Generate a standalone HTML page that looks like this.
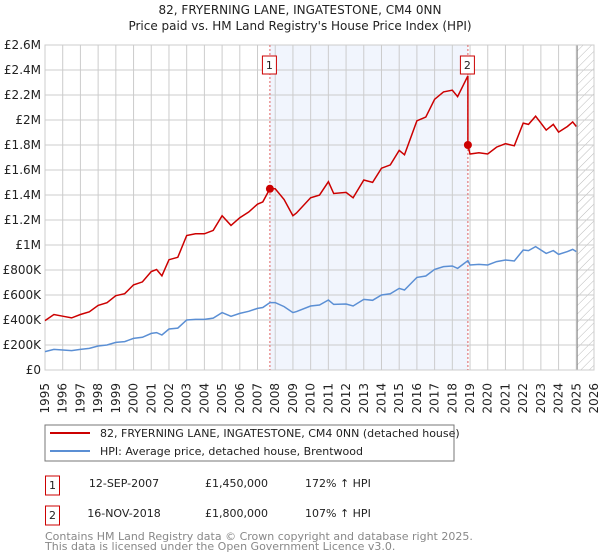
<!DOCTYPE html>
<html><head><meta charset="utf-8"><style>
body{margin:0;background:#fff;font-family:"DejaVu Sans","Liberation Sans",sans-serif;}
svg{display:block}
</style></head><body>
<svg id="chart" width="600" height="560" xmlns="http://www.w3.org/2000/svg" font-family="DejaVu Sans, Liberation Sans, sans-serif">
<text x="300" y="14" text-anchor="middle" font-size="12" fill="#222">82, FRYERNING LANE, INGATESTONE, CM4 0NN</text>
<text x="300" y="30" text-anchor="middle" font-size="12" fill="#222">Price paid vs. HM Land Registry's House Price Index (HPI)</text>
<defs><pattern id="hatch" width="6" height="6" patternUnits="userSpaceOnUse" patternTransform="rotate(45)"><line x1="0" y1="0" x2="0" y2="6" stroke="#bbb" stroke-width="1"/></pattern></defs>
<g id="plot"></g>
<rect x="45" y="425" width="409" height="36" fill="#fff" stroke="#777"/>
<line x1="50" y1="433" x2="90" y2="433" stroke="#cc0000" stroke-width="2"/>
<text x="100" y="437" font-size="11" fill="#222">82, FRYERNING LANE, INGATESTONE, CM4 0NN (detached house)</text>
<line x1="50" y1="451" x2="90" y2="451" stroke="#5b8fd4" stroke-width="2"/>
<text x="100" y="455" font-size="11" fill="#222">HPI: Average price, detached house, Brentwood</text>
<rect x="45.5" y="476" width="14" height="19" fill="#fff" stroke="#cc0000"/>
<text x="52.5" y="489" text-anchor="middle" font-size="11" fill="#222">1</text>
<text x="124" y="487" text-anchor="middle" font-size="11" fill="#222">12-SEP-2007</text>
<text x="205" y="487" font-size="11" fill="#222">£1,450,000</text>
<text x="305" y="487" font-size="11" fill="#222">172% ↑ HPI</text>
<rect x="45.5" y="506" width="14" height="19" fill="#fff" stroke="#cc0000"/>
<text x="52.5" y="519" text-anchor="middle" font-size="11" fill="#222">2</text>
<text x="124" y="517" text-anchor="middle" font-size="11" fill="#222">16-NOV-2018</text>
<text x="205" y="517" font-size="11" fill="#222">£1,800,000</text>
<text x="305" y="517" font-size="11" fill="#222">107% ↑ HPI</text>
<text x="45" y="540" font-size="11" fill="#888">Contains HM Land Registry data © Crown copyright and database right 2025.</text>
<text x="45" y="550" font-size="11" fill="#888">This data is licensed under the Open Government Licence v3.0.</text>
</svg>
<script>
const hpiYears=[1995,1995.5,1996,1996.5,1997,1997.5,1998,1998.5,1999,1999.5,2000,2000.5,2001,2001.3,2001.6,2002,2002.5,2003,2003.5,2004,2004.5,2005,2005.5,2006,2006.5,2007,2007.3,2007.7,2008,2008.5,2009,2009.2,2010,2010.5,2011,2011.3,2012,2012.4,2013,2013.5,2014,2014.5,2015,2015.3,2016,2016.5,2017,2017.5,2018,2018.3,2018.6,2018.88,2019,2019.5,2020,2020.5,2021,2021.5,2022,2022.3,2022.7,2023,2023.3,2023.7,2024,2024.5,2024.8,2025];
const hpiValues=[147,165,160,155,165,173,192,200,221,227,253,262,293,299,280,328,335,400,405,405,415,459,430,453,470,493,500,539,539,507,459,467,512,520,560,525,528,512,565,558,600,610,653,640,741,752,805,827,832,813,845,875,840,845,840,867,880,872,960,955,987,960,933,955,925,947,965,947];
const saleDates=[2007.7,2018.88];
const salePrices=[1450,1800];
const yTickValues=[0,200,400,600,800,1000,1200,1400,1600,1800,2000,2200,2400,2600];
const yTickLabels=["£0","£200K","£400K","£600K","£800K","£1M","£1.2M","£1.4M","£1.6M","£1.8M","£2M","£2.2M","£2.4M","£2.6M"];
const xTickYears=[1995,1996,1997,1998,1999,2000,2001,2002,2003,2004,2005,2006,2007,2008,2009,2010,2011,2012,2013,2014,2015,2016,2017,2018,2019,2020,2021,2022,2023,2024,2025,2026];
const dataEnd=2025.05;

const L=45,R=594,T=45,B=370,x0=1995,x1=2026,yMax=2600;
const xs=v=>L+(v-x0)/(x1-x0)*(R-L);
const ys=v=>B-v/yMax*(B-T);
const NS="http://www.w3.org/2000/svg";
const g=document.getElementById('plot');
function mk(t,a){const e=document.createElementNS(NS,t);for(const k in a)e.setAttribute(k,a[k]);g.appendChild(e);return e;}
function interp(yr){for(let i=0;i<hpiYears.length-1;i++){if(yr>=hpiYears[i]&&yr<=hpiYears[i+1]){const f=(yr-hpiYears[i])/(hpiYears[i+1]-hpiYears[i]);return hpiValues[i]+f*(hpiValues[i+1]-hpiValues[i]);}}return hpiValues[hpiValues.length-1];}

let e=mk('rect',{x:L,y:T,width:R-L,height:B-T,fill:'#fff'});


e=mk('rect',{x:xs(saleDates[0]),y:T,width:xs(saleDates[1])-xs(saleDates[0]),height:B-T,fill:'#eef2fc',opacity:0.8});


e=mk('rect',{x:xs(dataEnd),y:T,width:R-xs(dataEnd),height:B-T,fill:'url(#hatch)'});


yTickValues.forEach((v,i)=>{
  e=mk('line',{x1:L,x2:R,y1:ys(v),y2:ys(v),stroke:'#ccc','stroke-width':1});
  
  
  e=mk('text',{x:L-4,y:ys(v)+4,'text-anchor':'end','font-size':12,fill:'#222'});
  e.textContent=yTickLabels[i];
  
  
});
xTickYears.forEach(yr=>{
  e=mk('line',{x1:xs(yr),x2:xs(yr),y1:T,y2:B,stroke:'#ccc','stroke-width':1});
  
  
  e=mk('text',{x:0,y:0,'text-anchor':'end','font-size':12,fill:'#222',transform:`translate(${xs(yr)+4},383) rotate(-90)`});
  e.textContent=yr;
  
  
});
e=mk('line',{x1:xs(dataEnd),x2:xs(dataEnd),y1:T,y2:B,stroke:'#888','stroke-width':1});


e=mk('rect',{x:L,y:T,width:R-L,height:B-T,fill:'none',stroke:'#ccc'});


saleDates.forEach((d,i)=>{
  e=mk('line',{x1:xs(d),x2:xs(d),y1:T,y2:B,stroke:'#e06060','stroke-width':1,'stroke-dasharray':'2,2'});
  
  
});
// HPI line
let p=hpiYears.map((yr,i)=>(i?'L':'M')+xs(yr).toFixed(1)+','+ys(hpiValues[i]).toFixed(1)).join('');
e=mk('path',{d:p,fill:'none',stroke:'#5b8fd4','stroke-width':1.5});


// property line: HPI indexed from sales
const r1=salePrices[0]/interp(saleDates[0]), r2=salePrices[1]/interp(saleDates[1]);
let pts=[];
hpiYears.forEach((yr,i)=>{ if(yr<=saleDates[1]) pts.push([yr,hpiValues[i]*r1]); });
pts.push([saleDates[1],interp(saleDates[1])*r1]);
pts.push([saleDates[1],salePrices[1]]);
hpiYears.forEach((yr,i)=>{ if(yr>saleDates[1]) pts.push([yr,hpiValues[i]*r2]); });
p=pts.map((q,i)=>(i?'L':'M')+xs(q[0]).toFixed(1)+','+ys(q[1]).toFixed(1)).join('');
e=mk('path',{d:p,fill:'none',stroke:'#cc0000','stroke-width':1.5});


saleDates.forEach((d,i)=>{
  e=mk('circle',{cx:xs(d),cy:ys(salePrices[i]),r:4,fill:'#cc0000'});
  
  
  const bx=xs(d)-7;
  e=mk('rect',{x:bx-0.5,y:56,width:14,height:18,fill:'#fff',stroke:'#cc0000'});
  
  
  e=mk('text',{x:xs(d)-0.5,y:69,'text-anchor':'middle','font-size':11,fill:'#222'});
  e.textContent=String(i+1);
  
  
});
</script>
</body></html>
